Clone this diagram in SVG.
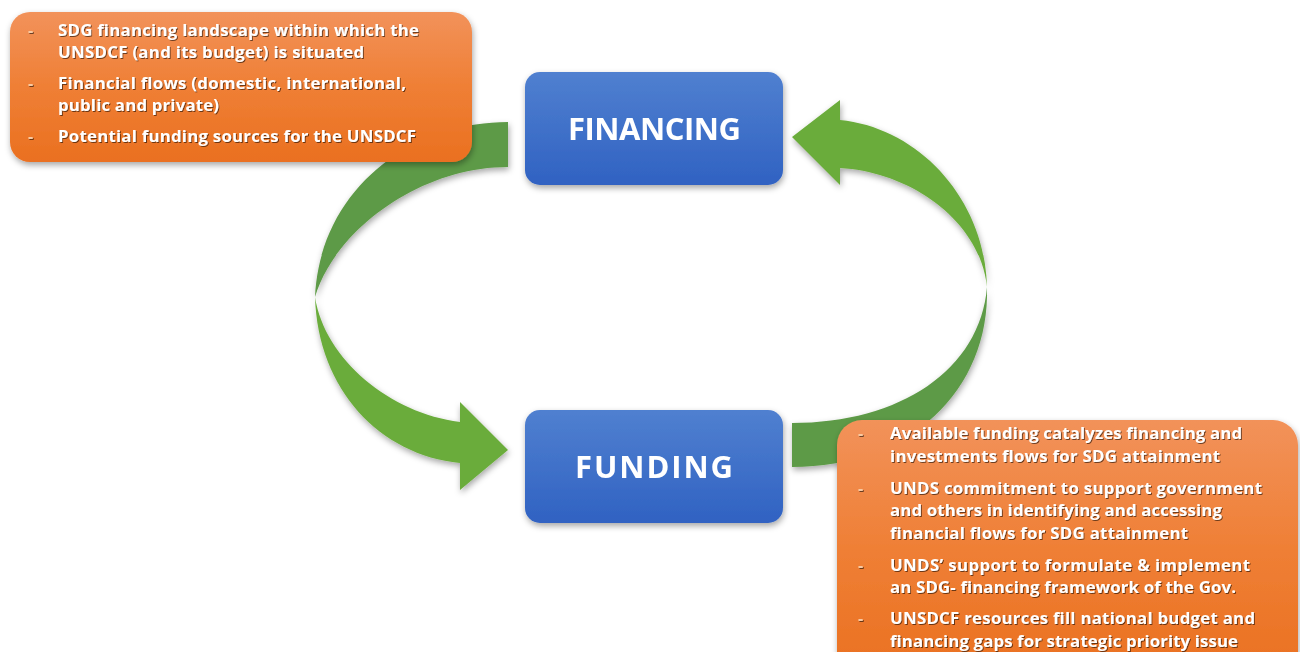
<svg xmlns="http://www.w3.org/2000/svg" width="1300" height="652" viewBox="0 0 1300 652">
<defs>
<linearGradient id="gBlue" x1="0" y1="0" x2="0" y2="1"><stop offset="0" stop-color="#5080d0"/><stop offset="1" stop-color="#3062c2"/></linearGradient>
<linearGradient id="gOrange" x1="0" y1="0" x2="0" y2="1"><stop offset="0" stop-color="#f2925a"/><stop offset="0.5" stop-color="#ef7f35"/><stop offset="1" stop-color="#ea7020"/></linearGradient>
<filter id="shadow" x="-10%" y="-10%" width="120%" height="130%"><feDropShadow dx="1" dy="3" stdDeviation="3" flood-color="#000" flood-opacity="0.35"/></filter>
<filter id="tshadow" x="-5%" y="-20%" width="110%" height="150%"><feDropShadow dx="1" dy="1" stdDeviation="0.6" flood-color="#000" flood-opacity="0.55"/></filter>
<style>
.dark{fill:#5d9a46;}
.light{fill:#6aac3b;}
.blue{fill:url(#gBlue);}
.orange{fill:url(#gOrange);}
.title{font-family:"Open Sans","Liberation Sans",sans-serif;font-weight:bold;font-size:31px;fill:#ffffff;}
.t{font-family:"Open Sans","Liberation Sans",sans-serif;font-weight:bold;font-size:16.8px;fill:#ffffff;}
.dash{font-family:"Open Sans","Liberation Sans",sans-serif;font-weight:bold;font-size:16px;fill:#f8c9a2;}
</style>
</defs>
<rect width="1300" height="652" fill="#ffffff"/>
<g id="connectors" filter="url(#shadow)">
<g id="arrow-financing-to-funding">
<path class="dark" d="M508,122 C410,122 320,190 315,297 C335,230 420,167 508,167 Z"/>
<path class="light" d="M315,297 C318,390 380,455 460,463 L460,490 L508,450 L460,402 L460,422 C390,413 325,360 315,297 Z"/>
</g>
<g id="arrow-funding-to-financing">
<path class="light" d="M987,287 C985,200 920,128 840,120 L840,100 L792,137 L840,185 L840,168 C910,172 980,220 987,287 Z"/>
<path class="dark" d="M987,287 C990,390 910,467 792,467 L792,423 C900,423 980,370 987,287 Z"/>
</g>
</g>
<g id="financing" filter="url(#shadow)">
<rect class="blue" x="525" y="72" width="258" height="113" rx="15"/>
<text class="title" x="568" y="140" textLength="173">FINANCING</text>
</g>
<g id="funding" filter="url(#shadow)">
<rect class="blue" x="525" y="410" width="258" height="113" rx="15"/>
<text class="title" x="575" y="478" textLength="158">FUNDING</text>
</g>
<g id="financing-notes">
<rect class="orange" x="10" y="12" width="462" height="150" rx="20" filter="url(#shadow)"/>
<g filter="url(#tshadow)">
<text class="dash" x="28" y="36">-</text>
<text class="dash" x="28" y="89">-</text>
<text class="dash" x="28" y="142">-</text>
<text class="t" x="58" y="36" textLength="361">SDG financing landscape within which the</text>
<text class="t" x="58" y="58" textLength="306">UNSDCF (and its budget) is situated</text>
<text class="t" x="58" y="89" textLength="348">Financial flows (domestic, international,</text>
<text class="t" x="58" y="111" textLength="161">public and private)</text>
<text class="t" x="58" y="142" textLength="358">Potential funding sources for the UNSDCF</text>
</g>
</g>
<g id="funding-notes">
<rect class="orange" x="837" y="420" width="461" height="260" rx="25" filter="url(#shadow)"/>
<g filter="url(#tshadow)">
<text class="dash" x="858" y="439">-</text>
<text class="dash" x="858" y="494">-</text>
<text class="dash" x="858" y="571">-</text>
<text class="dash" x="858" y="624">-</text>
<text class="t" x="890" y="439" textLength="352">Available funding catalyzes financing and</text>
<text class="t" x="890" y="462" textLength="330">investments flows for SDG attainment</text>
<text class="t" x="890" y="494" textLength="372">UNDS commitment to support government</text>
<text class="t" x="890" y="516" textLength="332">and others in identifying and accessing</text>
<text class="t" x="890" y="539" textLength="298">financial flows for SDG attainment</text>
<text class="t" x="890" y="571" textLength="360">UNDS’ support to formulate &amp; implement</text>
<text class="t" x="890" y="593" textLength="346">an SDG- financing framework of the Gov.</text>
<text class="t" x="890" y="624" textLength="365">UNSDCF resources fill national budget and</text>
<text class="t" x="890" y="647" textLength="348">financing gaps for strategic priority issue</text>
</g>
</g>
</svg>
